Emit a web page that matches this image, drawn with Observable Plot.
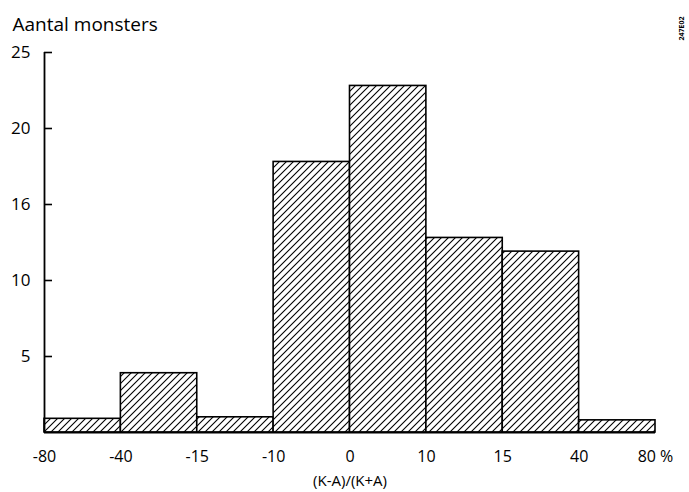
<!DOCTYPE html>
<html>
<head>
<meta charset="utf-8">
<script src="https://cdn.jsdelivr.net/npm/d3@7"></script>
<script src="https://cdn.jsdelivr.net/npm/@observablehq/plot@0.6"></script>
<style>
  html, body { margin: 0; padding: 0; background: #fff; }
  svg { font-family: "Open Sans", sans-serif; }
</style>
</head>
<body>
<div id="chart"></div>
<script>
// Bin edge labels (bins are drawn equal-width, as in the reference)
const edgeLabels = ["-80", "-40", "-15", "-10", "0", "10", "15", "40", "80 %"];
// Counts per bin ("Aantal monsters")
const counts = [0.9, 3.9, 1.0, 17.8, 22.8, 12.8, 11.9, 0.8];
// Y tick values and their printed labels
const yTicks = [5, 10, 15, 20, 25];
const yTickLabels = ["5", "10", "16", "20", "25"];

const bins = counts.map((c, i) => ({ x1: i, x2: i + 1, count: c }));

const chart = Plot.plot({
  width: 689,
  height: 492,
  marginLeft: 44,
  marginRight: 34,
  marginTop: 52,
  marginBottom: 60,
  style: { fontFamily: "Open Sans, sans-serif", fontSize: "16px", background: "#fff", overflow: "visible" },
  x: { domain: [0, 8] },
  y: { domain: [0, 25] },
  marks: [
    Plot.rectY(bins, { x1: "x1", x2: "x2", y: "count", fill: "url(#hatch)", stroke: "#000", strokeWidth: 1.6 }),
    Plot.ruleX([0], { stroke: "#000", strokeWidth: 1.8 }),
    Plot.ruleY([0], { stroke: "#000", strokeWidth: 2 }),
    // inward y ticks
    Plot.axisY({ ticks: yTicks, tickSize: 8, dx: 8, tickFormat: () => "", strokeWidth: 1.6, label: null }),
    // y tick labels
    Plot.axisY({ ticks: yTicks, tickSize: 0, tickPadding: 14, tickFormat: (d) => yTickLabels[yTicks.indexOf(d)], fontSize: 17, label: null }),
    // x tick labels at bin edges
    Plot.axisX({ ticks: d3.range(edgeLabels.length), tickSize: 0, tickPadding: 18, tickFormat: (i) => edgeLabels[i], fontSize: 16, label: null }),
    Plot.text(["(K-A)/(K+A)"], { frameAnchor: "bottom", dy: 49, fontSize: 15, lineAnchor: "middle" }),
    Plot.text(["Aantal monsters"], { frameAnchor: "top-left", dx: -32, dy: -28, textAnchor: "start", fontSize: 19, lineAnchor: "middle" }),
    Plot.text(["247E02"], { frameAnchor: "top-right", dx: 26, dy: -24, rotate: -90, textAnchor: "middle", fontSize: 7, fontWeight: "bold", lineAnchor: "middle" })
  ]
});

// hatch pattern
const ns = "http://www.w3.org/2000/svg";
const defs = document.createElementNS(ns, "defs");
const pat = document.createElementNS(ns, "pattern");
pat.setAttribute("id", "hatch");
pat.setAttribute("patternUnits", "userSpaceOnUse");
pat.setAttribute("width", "7");
pat.setAttribute("height", "7");
const bg = document.createElementNS(ns, "rect");
bg.setAttribute("width", "7");
bg.setAttribute("height", "7");
bg.setAttribute("fill", "#fff");
pat.appendChild(bg);
const p = document.createElementNS(ns, "path");
p.setAttribute("d", "M-1,1 l2,-2 M0,7 l7,-7 M6,8 l2,-2");
p.setAttribute("stroke", "#000");
p.setAttribute("stroke-width", "1.1");
pat.appendChild(p);
defs.appendChild(pat);
chart.insertBefore(defs, chart.firstChild);

document.getElementById("chart").appendChild(chart);
</script>
</body>
</html>
